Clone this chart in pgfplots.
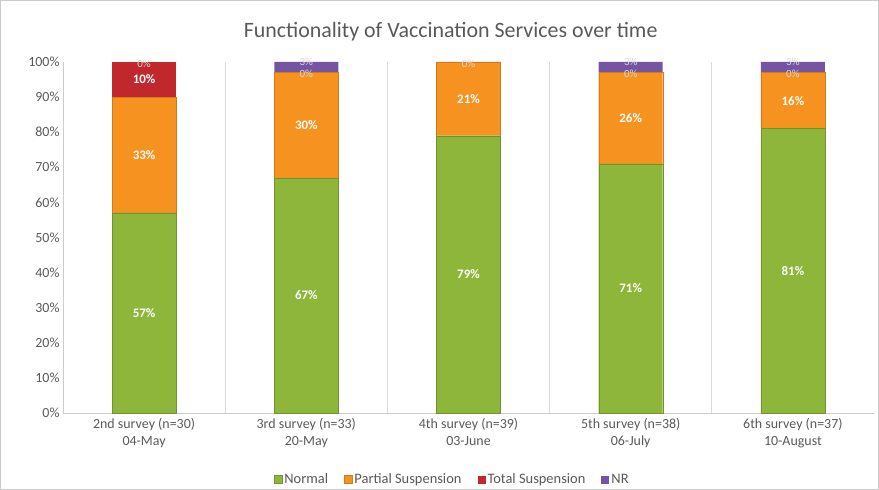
\documentclass[border=0pt]{standalone}
\usepackage{pgfplots}
\pgfplotsset{compat=1.18}
\usepackage{pgfplotstable}
\usepackage{fontspec}
\setmainfont{Carlito}
\definecolor{cnormal}{RGB}{141,182,58}
\definecolor{cpartial}{RGB}{245,146,32}
\definecolor{ctotal}{RGB}{192,40,45}
\definecolor{cnr}{RGB}{118,84,164}
\definecolor{ctext}{RGB}{89,89,89}

\pgfplotstableread{
x normal partial total nr
0 57 33 10 0
1 67 30 0 3
2 79 21 0 0
3 71 26 0 3
4 81 16 0 3
}\survey

\pgfplotstableread{
x y v
0 28.5 57
0 73.5 33
0 95 10
1 33.5 67
1 82 30
2 39.5 79
2 89.5 21
3 35.5 71
3 84 26
4 40.5 81
4 89 16
}\biglabels

\pgfplotstableread{
x y v
0 99.6 0
1 96.6 0
1 100.0 3
2 99.6 0
3 96.6 0
3 100.0 3
4 96.6 0
4 100.0 3
}\smalllabels

\begin{document}
\begin{tikzpicture}
\pgfplotsset{
  common/.style={
    at={(0,0)}, anchor=south west,
    scale only axis, width=811bp, height=351bp,
    xmin=-0.5, xmax=4.5, ymin=0, ymax=100,
    /pgf/number format/assume math mode=true,
  }
}
\begin{axis}[common,
  ybar stacked, bar width=64bp,
  axis x line*=bottom, axis y line*=left,
  axis line style={draw=black!20, line width=0.8pt},
  xtick={0,1,2,3,4},
  xticklabels={{2nd survey (n=30)\\04-May},{3rd survey (n=33)\\20-May},{4th survey (n=39)\\03-June},{5th survey (n=38)\\06-July},{6th survey (n=37)\\10-August}},
  xticklabel style={align=center, font=\fontsize{14}{16.5}\selectfont, text=ctext, yshift=-2bp},
  major tick length=0pt,
  minor xtick={0.5,1.5,2.5,3.5},
  xminorgrids, minor grid style={draw=black!15, line width=0.8pt},
  minor tick length=0pt,
  ytick={0,10,...,100},
  yticklabel={\pgfmathprintnumber{\tick}\%},
  yticklabel style={font=\fontsize{14}{16}\selectfont, text=ctext},
  legend columns=4,
  legend style={draw=none, at={(0.48,-0.19)}, anchor=center,
    font=\fontsize{14.5}{16}\selectfont, text=ctext,
    /tikz/every even column/.append style={column sep=14bp}},
  legend image code/.code={\fill[#1] (0bp,-4bp) rectangle (8bp,4bp);},
]
\addplot[fill=cnormal, draw=cnormal!80!black, line width=0.4pt] table[x=x,y=normal]{\survey};
\addlegendentry{Normal}
\addplot[fill=cpartial, draw=cpartial!85!black, line width=0.4pt] table[x=x,y=partial]{\survey};
\addlegendentry{Partial Suspension}
\addplot[fill=ctotal, draw=none] table[x=x,y=total]{\survey};
\addlegendentry{Total Suspension}
\addplot[fill=cnr, draw=none] table[x=x,y=nr]{\survey};
\addlegendentry{NR}
\end{axis}
\begin{axis}[common, hide axis, clip=false]
\addplot[only marks, mark=none, point meta=explicit,
  nodes near coords={\pgfmathprintnumber{\pgfplotspointmeta}\%},
  nodes near coords style={anchor=center, text=white, font=\bfseries\fontsize{13}{15}\selectfont}]
  table[x=x,y=y,meta=v]{\biglabels};
\addplot[only marks, mark=none, point meta=explicit,
  nodes near coords={\pgfmathprintnumber{\pgfplotspointmeta}\%},
  nodes near coords style={anchor=center, text=black!15, font=\fontsize{11}{12}\selectfont, inner sep=0pt}]
  table[x=x,y=y,meta=v]{\smalllabels};
\node[font=\fontsize{22}{26}\selectfont, text=ctext] at (rel axis cs:0.478,1) [yshift=30bp] {Functionality of Vaccination Services over time};
\end{axis}
\pgfresetboundingbox
\draw[black!20, line width=0.8pt] (-62.5bp,-76.5bp) rectangle (815.5bp,412.5bp);
\path[use as bounding box] (-63bp,-77bp) rectangle (816bp,413bp);
\end{tikzpicture}
\end{document}
